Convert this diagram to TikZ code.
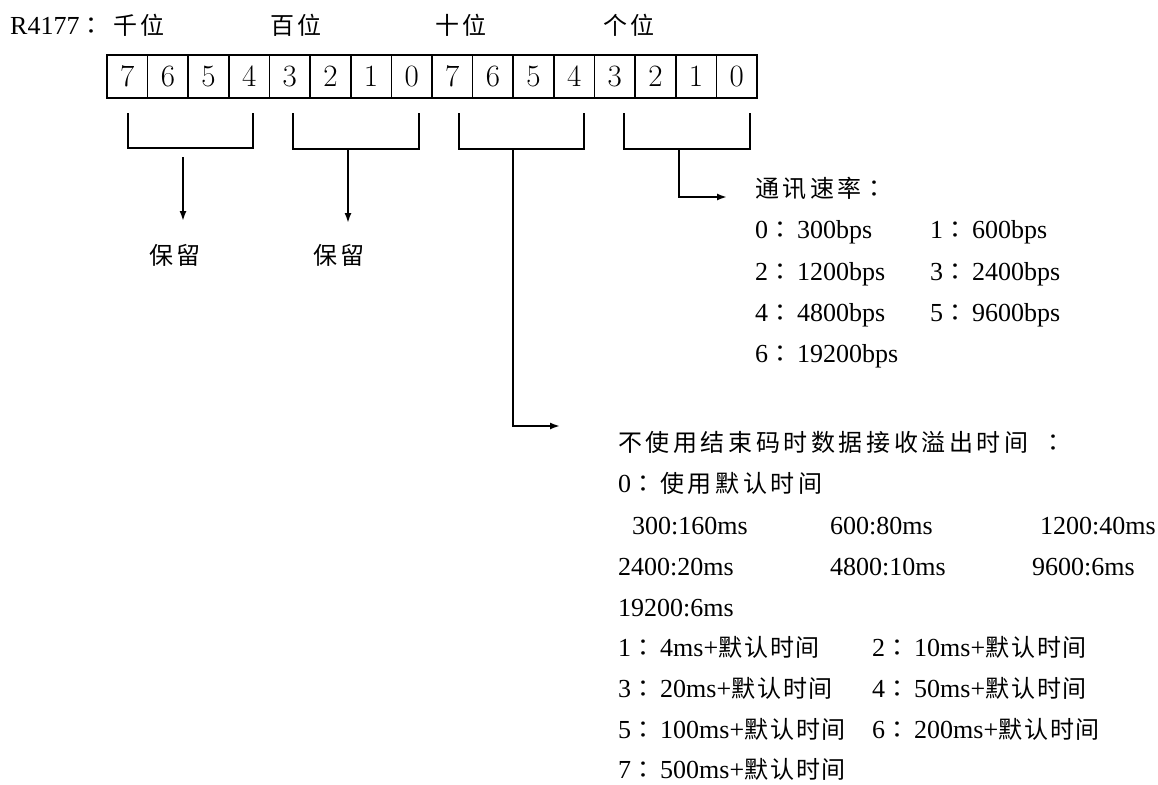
\documentclass[tikz,border=0pt]{standalone}
\usepackage{fontspec}
\newfontfamily\lib{Liberation Serif}
\newfontfamily\cjk[LetterSpace=15]{Noto Sans CJK SC}
\newfontfamily\cjks[LetterSpace=8]{Noto Sans CJK SC}
\newfontfamily\cjkjp{Noto Sans CJK JP}
\usetikzlibrary{arrows.meta}
\newcommand\zh[1]{{\fontsize{24}{24}\selectfont\cjk #1}}
\newcommand\zs[1]{{\fontsize{24}{24}\selectfont\cjks #1}}
\newcommand\fc{\makebox[29pt][l]{\fontsize{24}{24}\selectfont\cjkjp ：}}
\begin{document}
\begin{tikzpicture}[x=1pt,y=-1pt,
  txt/.style={anchor=base west, inner sep=0pt, font=\fontsize{26}{26}\selectfont\lib},
  zhs/.style={anchor=base west, inner sep=0pt, font=\fontsize{24}{24}\selectfont\cjk},
  cell/.style={draw, line width=1.6pt, minimum width=40.625pt, minimum height=43pt, inner sep=0pt, font=\fontsize{31}{31}\selectfont},
  br/.style={line width=1.8pt},
  arr/.style={line width=1.8pt, -{Latex[length=10pt,width=7pt]}}]
\fill[white] (0,0) rectangle (1158,784);
\useasboundingbox (0,0) rectangle (1158,784);
% header
\node[txt] (reg) at (10,35) {R4177\fc};
\node[zhs] (h1) at (113,35) {千位};
\node[zhs] (h2) at (270,35) {百位};
\node[zhs] (h3) at (435,35) {十位};
\node[zhs] (h4) at (603,35) {个位};
% bit cells
\foreach \d [count=\i] in {7,6,5,4,3,2,1,0,7,6,5,4,3,2,1,0}
  \node[cell] (c\i) at ({107+40.625*(\i-0.5)},76.5) {\d};
% brackets
\draw[br] (128,113) -- (128,148) -- (253,148) -- (253,113);
\draw[br] (293,113) -- (293,149) -- (419,149) -- (419,113);
\draw[br] (459,113) -- (459,149) -- (584,149) -- (584,113);
\draw[br] (624,113) -- (624,149) -- (750,149) -- (750,113);
% reserved
\node[zhs] (r1) at (149,264) {保留};
\node[zhs] (r2) at (313,264) {保留};
\coordinate (a1s) at (183,157);
\coordinate (a1e) at (183,221);
\coordinate (a2s) at (348,149);
\coordinate (a2e) at (348,223);
\draw[arr] (a1s) -- (a1e);
\draw[arr] (a2s) -- (a2e);
% baud rate
\coordinate (a4s) at (679,149);
\coordinate (a4e) at (727,197);
\draw[arr] (a4s) |- (a4e);
\node[zhs] (br0) at (755,197) {通讯速率\fc};
\node[txt] (b0) at (755,238) {0\fc300bps};
\node[txt] (b1) at (930,238) {1\fc600bps};
\node[txt] (b2) at (755,280) {2\fc1200bps};
\node[txt] (b3) at (930,280) {3\fc2400bps};
\node[txt] (b4) at (755,321) {4\fc4800bps};
\node[txt] (b5) at (930,321) {5\fc9600bps};
\node[txt] (b6) at (755,362) {6\fc19200bps};
% timeout
\coordinate (a3s) at (513,149);
\coordinate (a3e) at (560,426);
\draw[arr] (a3s) |- (a3e);
\node[zhs] (t0) at (618,451) {不使用结束码时数据接收溢出时间\hspace{13pt}\fc};
\node[txt] (t1) at (618,492) {0\fc\zh{使用默认时间}};
\node[txt] (t2a) at (632,534) {300:160ms};
\node[txt] (t2b) at (830,534) {600:80ms};
\node[txt] (t2c) at (1040,534) {1200:40ms};
\node[txt] (t3a) at (618,575) {2400:20ms};
\node[txt] (t3b) at (830,575) {4800:10ms};
\node[txt] (t3c) at (1032,575) {9600:6ms};
\node[txt] (t4) at (618,616) {19200:6ms};
\node[txt] (t5a) at (618,656) {1\fc4ms+\zs{默认时间}};
\node[txt] (t5b) at (872,656) {2\fc10ms+\zs{默认时间}};
\node[txt] (t6a) at (618,697) {3\fc20ms+\zs{默认时间}};
\node[txt] (t6b) at (872,697) {4\fc50ms+\zs{默认时间}};
\node[txt] (t7a) at (618,738) {5\fc100ms+\zs{默认时间}};
\node[txt] (t7b) at (872,738) {6\fc200ms+\zs{默认时间}};
\node[txt] (t8) at (618,778) {7\fc500ms+\zs{默认时间}};
\end{tikzpicture}
\end{document}
